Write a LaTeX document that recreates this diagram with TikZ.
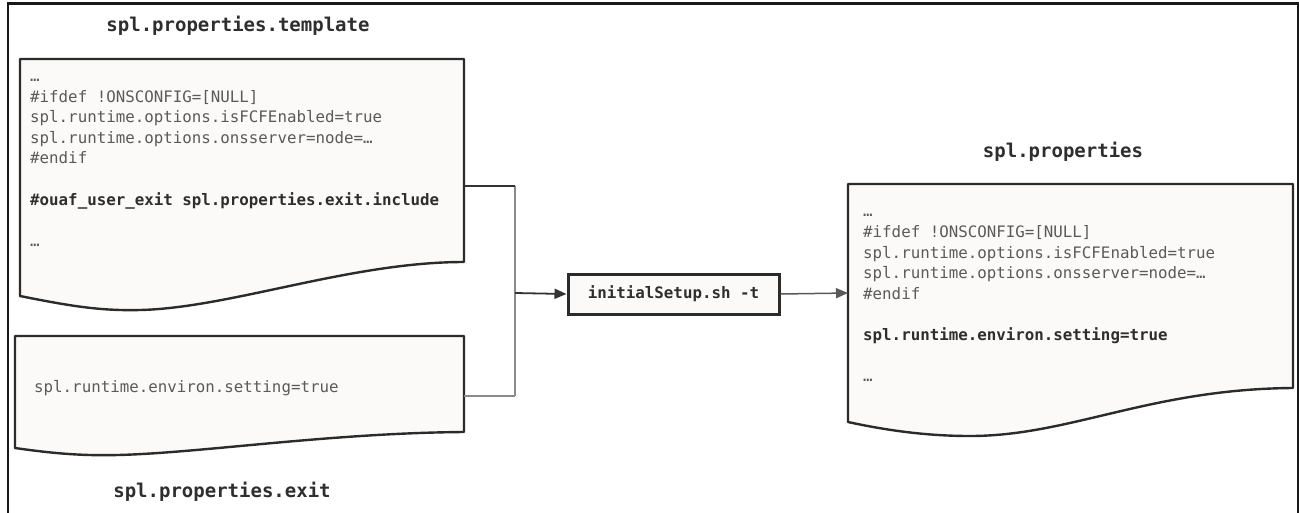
\documentclass[tikz,border=0pt]{standalone}
\usepackage{fontspec}
\setmonofont{DejaVu Sans Mono}
\usetikzlibrary{arrows.meta}
\definecolor{docfill}{HTML}{FBFAF8}
\definecolor{docline}{HTML}{2B2B2B}
\definecolor{txtgray}{HTML}{5A5A5A}
\definecolor{txtdark}{HTML}{2E2E2E}
\definecolor{wiregray}{HTML}{8A8A8A}
\definecolor{wiredark}{HTML}{333333}
\begin{document}
\begin{tikzpicture}[x=1pt,y=-1pt,
  doc/.style={draw=docline, fill=docfill, line width=2.4pt, line join=round},
  frameline/.style={draw=black!90, line width=2.4pt},
  codeline/.style={anchor=base west, inner sep=0pt, text=txtgray,
    font=\ttfamily\fontsize{15.8}{19}\selectfont},
  codebold/.style={anchor=base west, inner sep=0pt, text=txtdark,
    font=\ttfamily\bfseries\fontsize{15.8}{19}\selectfont},
  doctitle/.style={anchor=base, inner sep=0pt, text=txtdark,
    font=\ttfamily\bfseries\fontsize{19}{23}\selectfont},
  setupbox/.style={draw=docline, fill=docfill, line width=3pt,
    minimum width=211pt, minimum height=40pt, inner sep=0pt, text=txtdark,
    font=\ttfamily\bfseries\fontsize{15.8}{19}\selectfont},
  wiredk/.style={draw=wiredark, line width=1.8pt},
  wiregr/.style={draw=wiregray, line width=1.5pt},
  tipped/.style={-{Triangle[length=12pt,width=10pt]}},
]
\useasboundingbox (0,0) rectangle (1299,512);
\clip (0,0) rectangle (1299,512);
\fill[white] (0,0) rectangle (1299,512);

% outer frame
\draw[frameline] (8,520) -- (8,3.5) -- (1298,3.5) -- (1298,520);

% template document
\draw[doc] (20,59) -- (464,59) -- (464,262)
  .. controls (350,262) and (230,308) .. (140,310)
  .. controls (100,311) and (70,306) .. (20,296) -- cycle;
\coordinate (tplE) at (464,186);

% exit document
\draw[doc] (15,336) -- (464,336) -- (464,432)
  .. controls (330,433) and (200,453) .. (118,455)
  .. controls (80,456) and (50,453) .. (15,448) -- cycle;
\coordinate (exitE) at (464,396);

% result document
\draw[doc] (848,184) -- (1293,184) -- (1293,388)
  .. controls (1150,389) and (1070,436) .. (970,436)
  .. controls (925,436) and (885,430) .. (848,422) -- cycle;
\coordinate (propsW) at (848,293);

% titles
\node[doctitle] (ttpl) at (238,31) {spl.properties.template};
\node[doctitle] (tprops) at (1063,157) {spl.properties};
\node[doctitle] (texit) at (222,497) {spl.properties.exit};

% template text
\node[codeline] (t0) at (30,81) {…};
\node[codeline] (t1) at (30,102) {\#ifdef !ONSCONFIG=[NULL]};
\node[codeline] (t2) at (30,122) {spl.runtime.options.isFCFEnabled=true};
\node[codeline] (t3) at (30,143) {spl.runtime.options.onsserver=node=…};
\node[codeline] (t4) at (30,163) {\#endif};
\node[codebold] (t5) at (30,205) {\#ouaf\_user\_exit spl.properties.exit.include};
\node[codeline] (t6) at (30,246) {…};

% exit text
\node[codeline] (e1) at (34,392) {spl.runtime.environ.setting=true};

% result text
\node[codeline] (p0) at (863,216) {…};
\node[codeline] (p1) at (863,237) {\#ifdef !ONSCONFIG=[NULL]};
\node[codeline] (p2) at (863,258) {spl.runtime.options.isFCFEnabled=true};
\node[codeline] (p3) at (863,278) {spl.runtime.options.onsserver=node=…};
\node[codeline] (p4) at (863,299) {\#endif};
\node[codebold] (p5) at (863,340) {spl.runtime.environ.setting=true};
\node[codeline] (p6) at (863,381) {…};

% setup box
\node[setupbox] (setup) at (673.5,294) {initialSetup.sh -t};

% connectors
\coordinate (jTop) at (515,186);
\coordinate (jMid) at (515,293);
\coordinate (jBot) at (515,396);
\draw[wiregr] (jTop) -- (jBot);
\draw[wiregr] (exitE) -- (jBot);
\draw[wiredk] (tplE) -- (jTop);
\draw[wiredk, tipped] (jMid) -- (setup.west);
\draw[wiregr, draw=black!65, tipped] (setup.east) -- (propsW);
\end{tikzpicture}
\end{document}
